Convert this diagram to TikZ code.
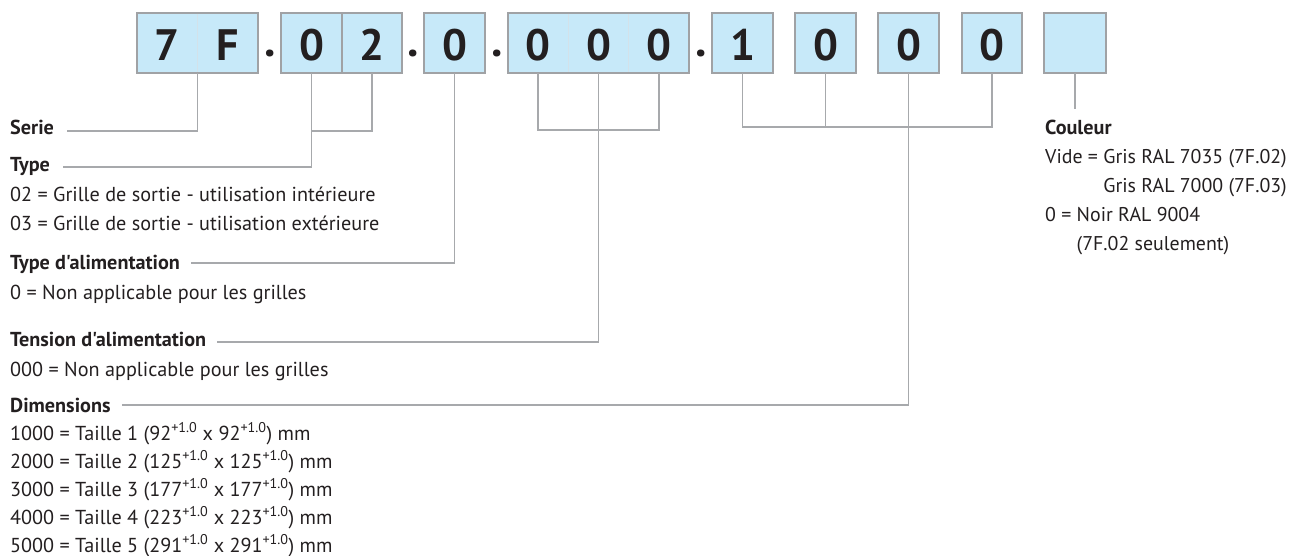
\documentclass[tikz,border=0pt]{standalone}
\usepackage{fontspec}
\setmainfont{PT Sans}
\newfontfamily\plainfont{PT Sans}
\usetikzlibrary{calc}
\definecolor{boxblue}{HTML}{C7E9F9}
\definecolor{framegray}{HTML}{A0A2A5}
\definecolor{conngray}{HTML}{A7A9AC}
\definecolor{ink}{HTML}{231F20}
\definecolor{faint}{HTML}{D3E2EA}
\begin{document}
\begin{tikzpicture}[x=1pt,y=-1pt,
 cell/.style={minimum width=60.5pt,minimum height=56pt,inner sep=0pt,font=\plainfont\fontsize{44}{44}\selectfont\bfseries,text=ink},
 framebox/.style={draw=framegray,line width=1.5pt,fill=boxblue},
 conn/.style={draw=conngray,line width=1.5pt},
 lbl/.style={anchor=base west,inner sep=0pt,font=\plainfont\fontsize{20.2}{24}\selectfont,text=ink},
 head/.style={anchor=base west,inner sep=0pt,font=\plainfont\fontsize{20.2}{24}\selectfont\bfseries,text=ink},
 rlbl/.style={anchor=base west,inner sep=0pt,font=\plainfont\fontsize{19.9}{24}\selectfont,text=ink},
 rhead/.style={anchor=base west,inner sep=0pt,font=\plainfont\fontsize{20.2}{24}\selectfont\bfseries,text=ink},
 dotmark/.style={anchor=base,inner sep=0pt,font=\plainfont\fontsize{46}{46}\selectfont\bfseries,text=ink}]
\useasboundingbox (0,0) rectangle (1290,556);
% frames
\draw[framebox] (137,13) rectangle (258,73);
\draw[faint,line width=1pt] (197.5,14) -- (197.5,72);
\draw[framebox] (281,13) rectangle (402,73);
\draw[framegray,line width=1.2pt] (342,13) -- (342,73);
\draw[framebox] (424,13) rectangle (485,73);
\draw[framebox] (508,13) rectangle (689,73);
\draw[faint,line width=1pt] (568.3,14) -- (568.3,72);
\draw[faint,line width=1pt] (628.7,14) -- (628.7,72);
\draw[framebox] (712,13) rectangle (773,73);
\draw[framebox] (795,13) rectangle (856,73);
\draw[framebox] (878,13) rectangle (939,73);
\draw[framebox] (962,13) rectangle (1022,73);
\draw[framebox] (1044,13) rectangle (1106,73);
% cells
\node[cell] (c1a) at (167.25,45) {7};
\node[cell] (c1b) at (227.75,45) {F};
\node[cell] (c2a) at (311.5,45) {0};
\node[cell] (c2b) at (372,45) {2};
\node[cell] (c3) at (454.5,45) {0};
\node[cell] (c4a) at (538.2,45) {0};
\node[cell] (c4b) at (598.5,45) {0};
\node[cell] (c4c) at (658.8,45) {0};
\node[cell] (c5) at (742.5,45) {1};
\node[cell] (c6) at (825.5,45) {0};
\node[cell] (c7) at (908.5,45) {0};
\node[cell] (c8) at (992,45) {0};
\node[cell] (c9) at (1075,45) {};
% dots
\node[dotmark] (d1) at (270,57) {.};
\node[dotmark] (d2) at (413,57) {.};
\node[dotmark] (d3) at (497,57) {.};
\node[dotmark] (d4) at (701,57) {.};
% left labels
\node[head] (serie) at (10,135) {Serie};
\node[head] (type) at (10,172) {Type};
\node[lbl] (t02) at (10,201) {02 = Grille de sortie - utilisation intérieure};
\node[lbl] (t03) at (10,230) {03 = Grille de sortie - utilisation extérieure};
\node[head] (talim) at (10,269) {Type d'alimentation};
\node[lbl] (a0) at (10,299) {0 = Non applicable pour les grilles};
\node[head] (tens) at (10,346) {Tension d'alimentation};
\node[lbl] (v0) at (10,376) {000 = Non applicable pour les grilles};
\node[head] (dims) at (10,412) {Dimensions};
\node[lbl] (m1) at (10,440) {1000 = Taille 1 (92\textsuperscript{+1.0} x 92\textsuperscript{+1.0}) mm};
\node[lbl] (m2) at (10,468) {2000 = Taille 2 (125\textsuperscript{+1.0} x 125\textsuperscript{+1.0}) mm};
\node[lbl] (m3) at (10,496) {3000 = Taille 3 (177\textsuperscript{+1.0} x 177\textsuperscript{+1.0}) mm};
\node[lbl] (m4) at (10,524) {4000 = Taille 4 (223\textsuperscript{+1.0} x 223\textsuperscript{+1.0}) mm};
\node[lbl] (m5) at (10,552) {5000 = Taille 5 (291\textsuperscript{+1.0} x 291\textsuperscript{+1.0}) mm};
% right labels
\node[rhead] (coul) at (1045,135) {Couleur};
\node[rlbl] (cv) at (1045,164) {Vide = Gris RAL 7035 (7F.02)};
\node[rlbl] (cg) at (1045,193) {\phantom{Vide = }Gris RAL 7000 (7F.03)};
\node[rlbl] (cn) at (1045,222) {0 = Noir RAL 9004};
\node[rlbl] (cs) at (1045,251) {\phantom{0 = }(7F.02 seulement)};
% connectors
\draw[conn] ($(serie.base east)+(13,-4)$) -| (c1a.south east);
\draw[conn] (c2b.south) -- ++(0,58) -| (c2a.south);
\draw[conn] ($(type.base east)+(13,-5)$) -| (c2a.south);
\draw[conn] ($(talim.base east)+(11,-6)$) -| (c3.south);
\draw[conn] (c4a.south) -- ++(0,57) -| (c4c.south);
\draw[conn] ($(tens.base east)+(11,-4)$) -| (c4b.south);
\draw[conn] (c5.south) -- ++(0,54) -| (c8.south);
\draw[conn] (c6.south) -- ++(0,54);
\draw[conn] ($(dims.base east)+(11,-7)$) -| (c7.south);
\draw[conn] (c9.south) -- ++(0,36);
\end{tikzpicture}
\end{document}
